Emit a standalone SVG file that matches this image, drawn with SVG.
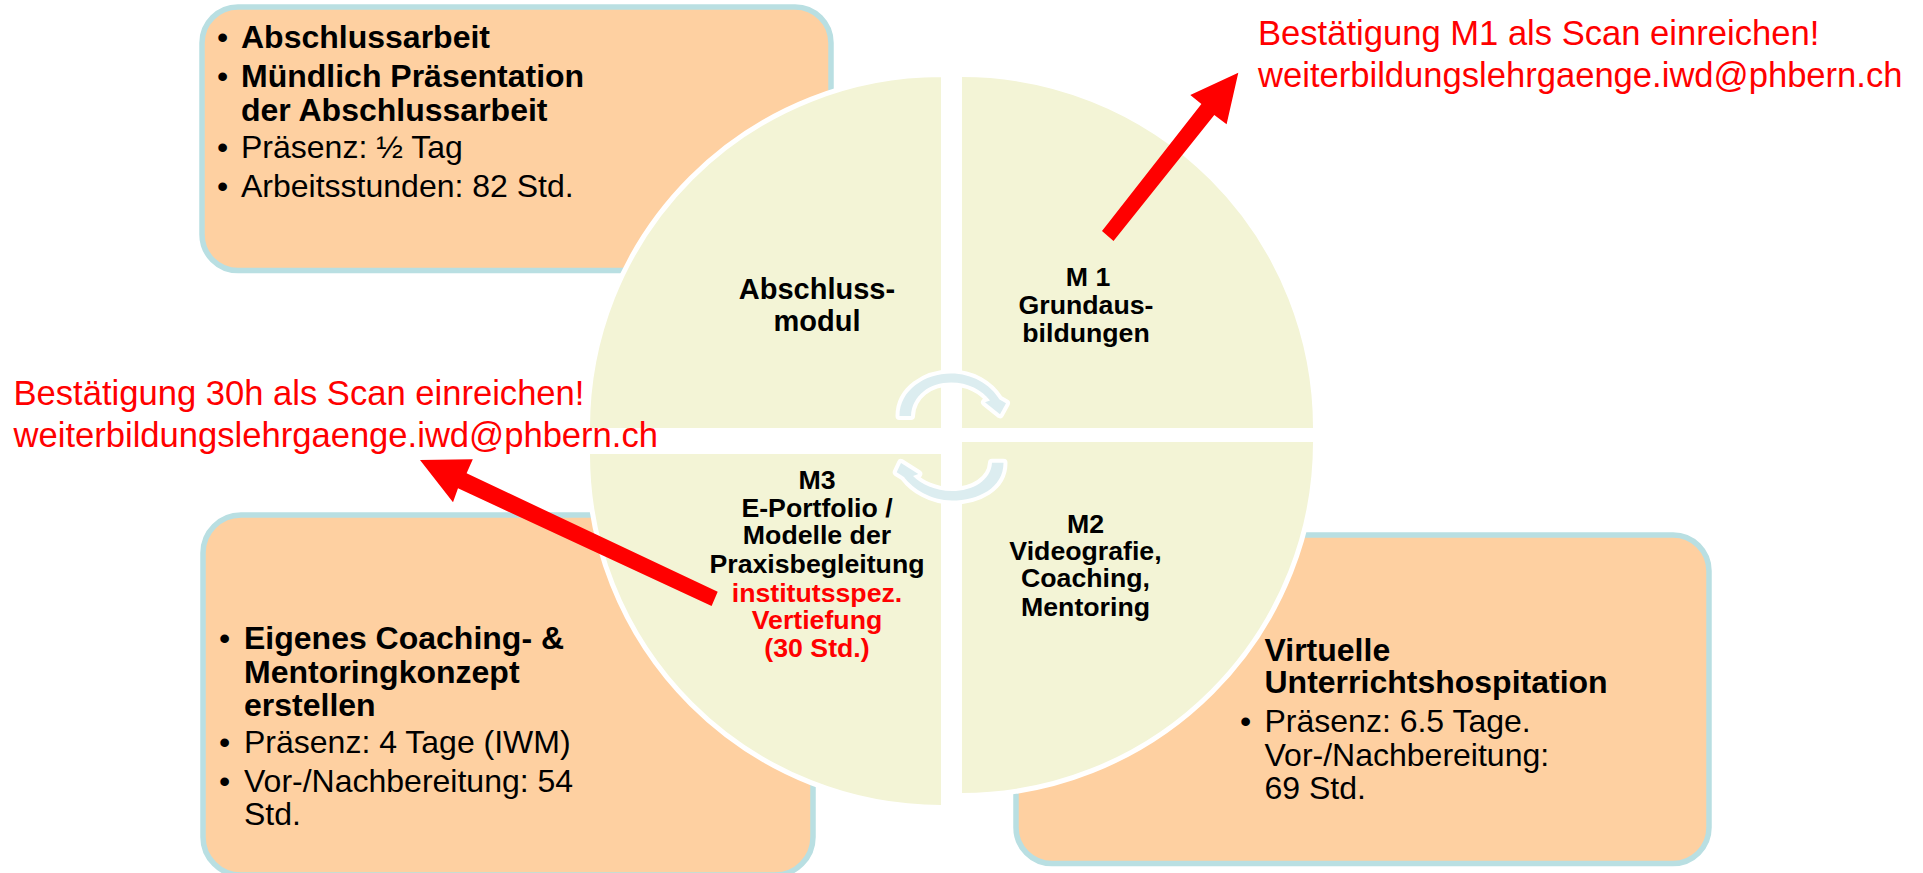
<svg xmlns="http://www.w3.org/2000/svg" width="1923" height="873" viewBox="0 0 1923 873">
<style>
text{font-family:"Liberation Sans",Arial,sans-serif;fill:#000}
.box{fill:#FED0A1;stroke:#B9DFE2;stroke-width:5.5}
.t{font-size:32px}
.b{font-weight:bold}
.q{fill:#F3F4D6;stroke:#fff;stroke-width:5}
.ql{font-size:26.7px;font-weight:bold;text-anchor:middle}
.red{fill:#FF0000}
.note{font-size:34.6px;fill:#FF0000}
.cyc{fill:#DCEDF0;stroke:#fff;stroke-width:8;stroke-linejoin:round;paint-order:stroke}
</style>
<rect width="1923" height="873" fill="#fff"/>
<g id="box-abschluss">
<rect class="box" x="202" y="7" width="629" height="263.5" rx="36"/>
<text class="t" x="217" y="48">•</text><text class="t b" x="241" y="48">Abschlussarbeit</text>
<text class="t" x="217" y="87">•</text><text class="t b" x="241" y="87">Mündlich Präsentation</text>
<text class="t b" x="241" y="121">der Abschlussarbeit</text>
<text class="t" x="217" y="158">•</text><text class="t" x="241" y="158">Präsenz: ½ Tag</text>
<text class="t" x="217" y="197">•</text><text class="t" x="241" y="197">Arbeitsstunden: 82 Std.</text>
</g>
<g id="box-m3">
<rect class="box" x="203" y="515" width="610" height="360" rx="38"/>
<text class="t" x="219" y="649">•</text><text class="t b" x="244" y="649">Eigenes Coaching- &amp;</text>
<text class="t b" x="244" y="683">Mentoringkonzept</text>
<text class="t b" x="244" y="716">erstellen</text>
<text class="t" x="219" y="753">•</text><text class="t" x="244" y="753">Präsenz: 4 Tage (IWM)</text>
<text class="t" x="219" y="792">•</text><text class="t" x="244" y="792">Vor-/Nachbereitung: 54</text>
<text class="t" x="244" y="825">Std.</text>
</g>
<g id="box-m2">
<rect class="box" x="1016" y="535" width="693" height="328.5" rx="36"/>
<text class="t b" x="1264.5" y="661">Virtuelle</text>
<text class="t b" x="1264.5" y="693">Unterrichtshospitation</text>
<text class="t" x="1240" y="732">•</text><text class="t" x="1264.5" y="732">Präsenz: 6.5 Tage.</text>
<text class="t" x="1264.5" y="766">Vor-/Nachbereitung:</text>
<text class="t" x="1264.5" y="799">69 Std.</text>
</g>
<g id="q-abschluss">
<path class="q" d="M943.5 430.5H587.5V428A353.5 353.5 0 0 1 941 74.5H943.5Z"/>
<text class="ql" style="font-size:29px" x="817" y="298.5">Abschluss-</text>
<text class="ql" style="font-size:29px" x="817" y="331">modul</text>
</g>
<g id="q-m1">
<path class="q" d="M959.5 430.5V74.5H962A353.5 353.5 0 0 1 1315.5 428V430.5Z"/>
<text class="ql" x="1088" y="286">M 1</text>
<text class="ql" x="1086" y="314">Grundaus-</text>
<text class="ql" x="1086" y="342">bildungen</text>
</g>
<g id="q-m2">
<path class="q" d="M959.5 439.5H1315.5V442A353.5 353.5 0 0 1 962 795.5H959.5Z"/>
<text class="ql" x="1085.5" y="532.5">M2</text>
<text class="ql" x="1085.5" y="560">Videografie,</text>
<text class="ql" x="1085.5" y="587">Coaching,</text>
<text class="ql" x="1085.5" y="615.500">Mentoring</text>
</g>
<g id="q-m3">
<path class="q" d="M943.5 451.5V807.5H941A353.5 353.5 0 0 1 587.5 454V451.5Z"/>
<text class="ql" x="817" y="489">M3</text>
<text class="ql" x="817" y="517">E-Portfolio /</text>
<text class="ql" x="817" y="544">Modelle der</text>
<text class="ql" x="817" y="573">Praxisbegleitung</text>
<text class="ql" style="fill:#FF0000" x="817" y="602">institutsspez.</text>
<text class="ql" style="fill:#FF0000" x="817" y="629">Vertiefung</text>
<text class="ql" style="fill:#FF0000" x="817" y="657">(30 Std.)</text>
</g>
<g id="cycle">
<path class="cyc" d="M899.5 416C899.500 390 925 373.500 951 373.500C972 373.500 990 384 999.500 399.500L1006 403.300L1000 414.300L985 402.300L990 400.500C982 390 968 382.500 951 382.500C930 382.500 912 395 911 416Z"/>
<path class="cyc" d="M1003.500 462.700C1003.500 488 978 500.500 952 500.500C931 500.500 913 489 904 477L896.700 472.300L901 463L918.300 474L913 476C921 484 935 491 952 491C973 491 991 480 992 462.700Z"/>
</g>
<g id="notes">
<text class="note" x="1258" y="45">Bestätigung M1 als Scan einreichen!</text>
<text class="note" x="1258" y="87">weiterbildungslehrgaenge.iwd@phbern.ch</text>
<text class="note" x="13.500" y="405">Bestätigung 30h als Scan einreichen!</text>
<text class="note" x="13.500" y="447">weiterbildungslehrgaenge.iwd@phbern.ch</text>
</g>
<g id="connectors">
<polygon class="red" points="1102,231 1113.500,241 1214.300,115 1226.600,124.300 1238.300,72.700 1190.300,95 1201.400,104"/>
<polygon class="red" points="717.700,591.700 711.600,606 458,488.300 453,502.300 420,460 472.800,459.300 466.600,473.300"/>
</g>
</svg>
